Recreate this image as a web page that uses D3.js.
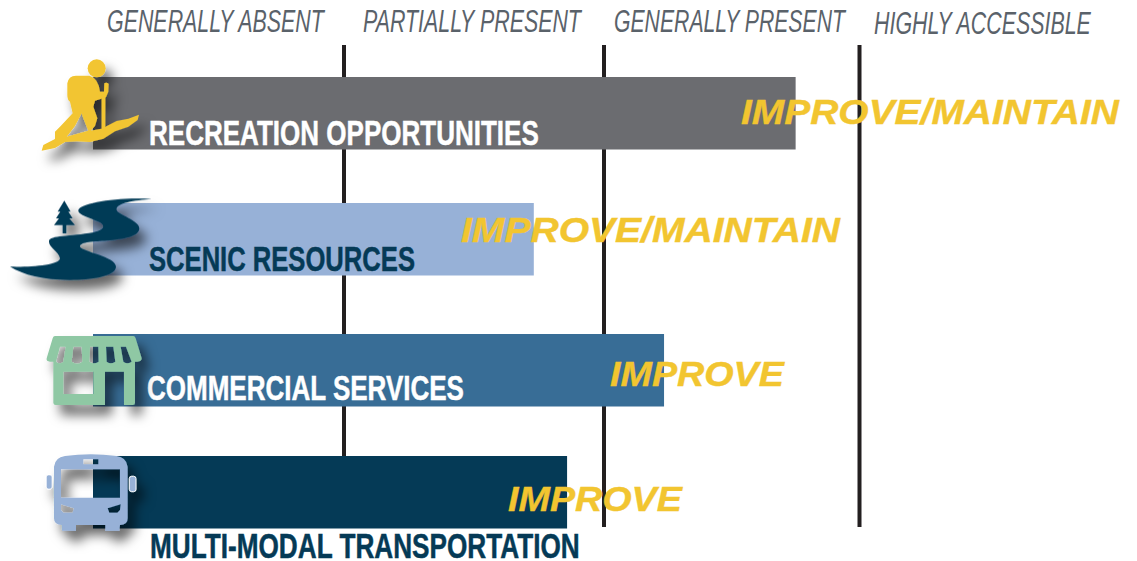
<!DOCTYPE html>
<html>
<head>
<meta charset="utf-8">
<script src="https://cdn.jsdelivr.net/npm/d3@7"></script>
<style>
  html, body { margin: 0; background: #fff; }
  svg { display: block; }
</style>
</head>
<body>
<div id="chart"></div>
<script>
// values are read on the four step scale: 0 absent ... 3 accessible
const categories = ['RECREATION OPPORTUNITIES', 'SCENIC RESOURCES', 'COMMERCIAL SERVICES', 'MULTI-MODAL TRANSPORTATION']
const scores = [2.75, 1.73, 2.235, 1.858]
const actions = ['IMPROVE/MAINTAIN', 'IMPROVE/MAINTAIN', 'IMPROVE', 'IMPROVE']
const levels = ['GENERALLY ABSENT', 'PARTIALLY PRESENT', 'GENERALLY PRESENT', 'HIGHLY ACCESSIBLE']
const barColors = ['#6b6c70', '#97b1d7', '#386d96', '#053a56']
const labelColors = ['#ffffff', '#053a56', '#ffffff', '#053a56']

const width = 1137
const height = 561

const x = d3.scaleLinear().domain([0, 1, 2, 3]).range([93, 344, 604, 859.5])
const y = d3.scaleOrdinal().domain(categories).range([77, 203, 334, 456])
const barHeight = 72.5

// text boxes measured on the reference: [left, right, baseline]
const levelBoxes = [[107, 324, 32], [363, 581, 32], [614, 845, 32], [874, 1091, 34]]
const labelBoxes = [[149, 539, 144.5], [149, 415, 271], [147, 464, 399.5], [150, 580, 558]]
const actionBoxes = [[741, 1119, 124], [461, 840, 242], [610, 784, 386], [508, 682, 511]]
const gridEnds = [456, 527, 527]

const svg = d3.select('#chart')
    .append('svg')
    .attr('width', width)
    .attr('height', height)

const shadow = svg.append('defs').append('filter')
    .attr('id', 'icon-shadow')
    .attr('x', '-30%').attr('y', '-30%')
    .attr('width', '170%').attr('height', '170%')
shadow.append('feDropShadow')
    .attr('dx', 7).attr('dy', 10)
    .attr('stdDeviation', 6)
    .attr('flood-color', '#000')
    .attr('flood-opacity', 0.6)

// squeeze or stretch a text so it fills its measured box
function fitText(selection, boxes) {
    selection.attr('transform', function (d, i) {
        const box = boxes[i]
        const sx = (box[1] - box[0]) / this.getComputedTextLength()
        return `translate(${box[0]},${box[2]}) scale(${sx},1)`
    })
}

// grid lines sit behind the bars
svg.append('g')
    .selectAll('line')
    .data(x.domain().slice(1))
    .join('line')
    .attr('x1', d => x(d))
    .attr('x2', d => x(d))
    .attr('y1', 45)
    .attr('y2', (d, i) => gridEnds[i])
    .attr('stroke', '#231f20')
    .attr('stroke-width', 4)

svg.append('g')
    .selectAll('text')
    .data(levels)
    .join('text')
    .style('font-family', '"Liberation Sans"')
    .style('font-style', 'italic')
    .style('font-size', '31px')
    .style('fill', '#5a626a')
    .text(d => d)
    .call(fitText, levelBoxes)

svg.append('g')
    .selectAll('rect')
    .data(categories)
    .join('rect')
    .attr('x', x(0))
    .attr('y', d => y(d))
    .attr('width', (d, i) => x(scores[i]) - x(0))
    .attr('height', barHeight)
    .attr('fill', (d, i) => barColors[i])

svg.append('g')
    .selectAll('text')
    .data(categories)
    .join('text')
    .style('font-family', '"Liberation Sans"')
    .style('font-weight', 'bold')
    .style('font-size', '35px')
    .style('fill', (d, i) => labelColors[i])
    .style('stroke', (d, i) => labelColors[i])
    .style('stroke-width', 0.5)
    .text(d => d)
    .call(fitText, labelBoxes)

// icons, traced in 3x crop coordinates and scaled down
const icons = svg.append('g')
    .attr('filter', 'url(#icon-shadow)')

const hiker = icons.append('g')
    .attr('transform', 'translate(0,40) scale(0.3333)')
    .attr('fill', '#f2c530')
hiker.append('circle').attr('cx', 290).attr('cy', 85).attr('r', 27)
hiker.append('path')
    .attr('fill-rule', 'evenodd')
    .attr('d', `M125,332 L130,315 L165,297 L165,275 L180,260 L218,220 L210,185 Q202,180 202,165 L202,130
        Q205,108 228,107 L268,107 Q295,115 300,155 L312,155 L313,130 Q320,125 326,132 L325,155 L318,172
        L285,182 L280,200 L292,235 L285,258 L272,272 L305,266 L350,243 L385,236 L417,224 L413,240 L385,260 L345,274
        L310,296 L270,306 L230,304 L195,306 L165,324 Z
        M245,220 L225,258 L200,290 L265,272 L250,235 Z`)
hiker.append('rect').attr('x', 305).attr('y', 165).attr('width', 11).attr('height', 105)

const river = icons.append('g')
    .attr('transform', 'translate(0,40) scale(0.3333)')
    .attr('fill', '#053a56')
river.append('path')
    .attr('d', `M30,680 C90,682 180,675 180,655 C178,635 145,622 147,603 C150,585 210,590 280,577
        C315,570 318,555 295,545 C270,532 232,525 235,510 C240,490 350,470 455,477
        C400,480 345,490 350,510 C355,525 418,540 418,565 C418,590 370,597 320,602 C285,605 240,605 240,620
        C245,635 348,650 348,680 C348,710 270,720 210,720 C130,720 70,705 30,680 Z`)
river.append('path')
    .attr('d', `M193,482 L212,515 L205,515 L218,535 L208,535 L225,555 L199,555 L199,580 L188,580 L188,555
        L162,555 L177,535 L168,535 L181,515 L173,515 Z`)

const store = icons.append('g')
    .attr('transform', 'translate(0,320) scale(0.3333)')
store.append('path')
    .attr('fill', '#8fc8a4')
    .attr('fill-rule', 'evenodd')
    .attr('d', `M165,48 L400,48 Q405,48 407,55 L425,115 Q425,125 412,125 L405,125 L405,248 Q405,255 398,255
        L167,255 Q160,255 160,248 L160,125 L150,125 Q138,125 140,115 L158,55 Q160,48 165,48 Z
        M180,80 L197,80 L190,125 Q180,135 168,125 Z
        M220,80 L245,80 L247,125 Q232,137 215,125 Z
        M270,80 L295,80 L296,125 Q282,135 268,125 Z
        M318,80 L340,80 L346,125 Q332,135 320,125 Z
        M362,80 L378,80 L395,125 Q382,135 370,125 Z
        M190,155 L280,155 L280,222 L190,222 Z
        M315,155 L372,155 L372,255 L315,255 Z`)

const bus = icons.append('g')
    .attr('transform', 'translate(0,320) scale(0.3333)')
    .attr('fill', '#97b1d7')
bus.append('path')
    .attr('fill-rule', 'evenodd')
    .attr('d', `M162,440 Q165,412 195,408 Q272,398 350,408 Q380,412 383,440 L383,595 Q383,615 360,615
        L358,632 L316,632 L316,615 L228,615 L228,632 L186,632 L186,615 Q162,615 162,595 Z
        M250,418 L295,418 L295,433 L250,433 Z
        M183,448 L360,448 L360,533 L183,533 Z
        M183,553 L222,565 L218,578 L190,578 L183,570 Z
        M323,565 L362,553 L360,570 L352,578 L328,578 Z`)
bus.append('rect')
    .attr('x', 139).attr('y', 465).attr('width', 17).attr('height', 42).attr('rx', 6)
    .attr('stroke', '#fff').attr('stroke-width', 2)
bus.append('rect')
    .attr('x', 388).attr('y', 469).attr('width', 20).attr('height', 46).attr('rx', 7)
    .attr('stroke', '#fff').attr('stroke-width', 3)

// action labels go on top of everything
svg.append('g')
    .selectAll('text')
    .data(actions)
    .join('text')
    .style('font-family', '"Liberation Sans"')
    .style('font-weight', 'bold')
    .style('font-style', 'italic')
    .style('font-size', '35px')
    .style('fill', '#f2c530')
    .style('stroke', '#f2c530')
    .style('stroke-width', 0.4)
    .text(d => d)
    .call(fitText, actionBoxes)
</script>
</body>
</html>
